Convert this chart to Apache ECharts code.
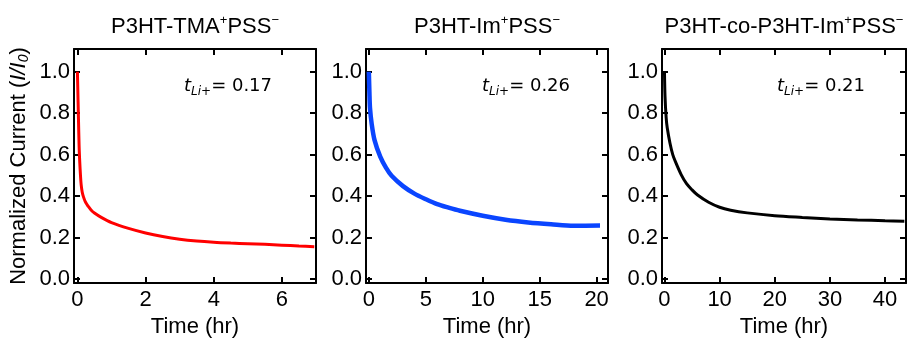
<!DOCTYPE html>
<html>
<head>
<meta charset="utf-8">
<title>Chronoamperometry – normalized current decay</title>
<script src="https://cdn.jsdelivr.net/npm/echarts@6/dist/echarts.min.js"></script>
<style>
  html, body { margin: 0; padding: 0; background: #fff; }
  #chart { width: 907px; height: 343px; }
</style>
</head>
<body>
<div id="chart"></div>
<script>
// Normalized current I/I0 versus time (hr) for three polymer electrolytes
const tmaSeries = [
  [0, 1.0], [0.01, 0.93], [0.03, 0.78], [0.05, 0.64], [0.07, 0.56], [0.09, 0.50],
  [0.11, 0.455], [0.14, 0.42], [0.18, 0.395], [0.24, 0.37], [0.32, 0.35], [0.4, 0.333],
  [0.5, 0.318], [0.7, 0.297], [1.0, 0.272], [1.5, 0.244], [2.0, 0.222],
  [2.5, 0.205], [3.0, 0.192], [3.5, 0.183], [4.0, 0.177], [4.5, 0.173],
  [5.0, 0.17], [5.5, 0.167], [6.0, 0.163], [6.5, 0.159], [6.95, 0.156]
];
const imSeries = [
  [0, 1.0], [0.05, 0.9], [0.1, 0.826], [0.25, 0.748], [0.5, 0.67], [1.0, 0.59],
  [1.5, 0.537], [2.0, 0.498], [3.0, 0.448], [4.0, 0.412], [5.0, 0.385],
  [6.0, 0.361], [7.0, 0.344], [8.0, 0.329], [10.0, 0.305], [12.0, 0.286],
  [14.0, 0.273], [16.0, 0.264], [18.0, 0.257], [20.3, 0.258]
];
const coSeries = [
  [0, 1.0], [0.1, 0.88], [0.3, 0.78], [0.5, 0.73], [1.0, 0.655], [1.5, 0.6],
  [2.0, 0.565], [3.0, 0.505], [4.0, 0.46], [5.0, 0.43], [6.0, 0.405],
  [8.0, 0.37], [10.0, 0.346], [12.0, 0.332], [15.0, 0.319], [20.0, 0.305],
  [25.0, 0.297], [30.0, 0.29], [35.0, 0.285], [40.0, 0.281], [43.5, 0.279]
];

const panelTitles = [
  '{m|P3HT-TMA}{s|+}{m|PSS}{s|\u2212}',
  '{m|P3HT-Im}{s|+}{m|PSS}{s|\u2212}',
  '{m|P3HT-co-P3HT-Im}{s|+}{m|PSS}{s|\u2212}'
];
const transferenceNumbers = ['0.17', '0.26', '0.21'];

const yTicks = [0, 0.2, 0.4, 0.6, 0.8, 1.0];
const xTicks = [[0, 2, 4, 6], [0, 5, 10, 15, 20], [0, 10, 20, 30, 40]];
const xRanges = [[-0.1, 7.0], [-0.25, 21.0], [-0.45, 43.8]];
const yRange = [-0.02, 1.11];

const lineColors = ['#ff0000', '#0a45ff', '#000000'];
const lineWidths = [3, 4.5, 3];
const seriesData = [tmaSeries, imSeries, coSeries];

const gridLefts = [74, 366, 662];
const gridWidths = [242, 242, 244];
const FONT = 'Liberation Sans, Arial, Helvetica, sans-serif';

const grids = [], xAxes = [], yAxes = [], series = [], graphics = [];

for (let i = 0; i < 3; i++) {
  grids.push({ left: gridLefts[i], top: 49, width: gridWidths[i], height: 241 });

  const lineStyle = { color: '#000', width: 2 };
  const tickBase = { show: true, inside: true, length: 6, lineStyle: { color: '#000', width: 2 } };

  // bottom axis with labels
  xAxes.push({
    type: 'value', gridIndex: i, position: 'bottom',
    min: xRanges[i][0], max: xRanges[i][1],
    axisLine: { show: true, onZero: false, lineStyle },
    axisTick: Object.assign({ customValues: xTicks[i] }, tickBase),
    axisLabel: { show: true, customValues: xTicks[i], margin: 6, color: '#000',
                 fontFamily: FONT, fontSize: 22, formatter: v => String(Math.round(v)) },
    splitLine: { show: false },
    name: 'Time (hr)', nameLocation: 'middle', nameGap: 32,
    nameTextStyle: { color: '#000', fontFamily: FONT, fontSize: 22 }
  });
  // mirrored top axis
  xAxes.push({
    type: 'value', gridIndex: i, position: 'top',
    min: xRanges[i][0], max: xRanges[i][1],
    axisLine: { show: true, onZero: false, lineStyle },
    axisTick: Object.assign({ customValues: xTicks[i] }, tickBase),
    axisLabel: { show: false }, splitLine: { show: false }
  });

  const yLeft = {
    type: 'value', gridIndex: i, position: 'left',
    min: yRange[0], max: yRange[1],
    axisLine: { show: true, onZero: false, lineStyle },
    axisTick: Object.assign({ customValues: yTicks }, tickBase),
    axisLabel: { show: true, customValues: yTicks, margin: 4, color: '#000',
                 fontFamily: FONT, fontSize: 22, formatter: v => v.toFixed(1) },
    splitLine: { show: false }
  };
  if (i === 0) {
    Object.assign(yLeft, {
      name: '{r|Normalized Current (}{i|I/I}{sub|0}{r|)}',
      nameLocation: 'middle', nameRotate: 90, nameGap: 43,
      nameTextStyle: {
        color: '#000', fontFamily: FONT, fontSize: 22,
        rich: {
          r: { fontFamily: FONT, fontSize: 22, color: '#000' },
          i: { fontFamily: FONT, fontSize: 22, fontStyle: 'italic', color: '#000' },
          sub: { fontFamily: FONT, fontSize: 14, fontStyle: 'italic', color: '#000',
                 verticalAlign: 'bottom', lineHeight: 24 }
        }
      }
    });
  }
  yAxes.push(yLeft);
  // mirrored right axis
  yAxes.push({
    type: 'value', gridIndex: i, position: 'right',
    min: yRange[0], max: yRange[1],
    axisLine: { show: true, onZero: false, lineStyle },
    axisTick: Object.assign({ customValues: yTicks }, tickBase),
    axisLabel: { show: false }, splitLine: { show: false }
  });

  series.push({
    type: 'line', xAxisIndex: 2 * i, yAxisIndex: 2 * i,
    data: seriesData[i], showSymbol: false, smooth: 0.3,
    lineStyle: { color: lineColors[i], width: lineWidths[i] },
    silent: true, animation: false, clip: true
  });

  // panel heading
  graphics.push({
    type: 'text', x: gridLefts[i] + gridWidths[i] / 2, y: 27,
    style: {
      text: panelTitles[i], align: 'center', verticalAlign: 'middle',
      rich: {
        m: { fontFamily: FONT, fontSize: 22, color: '#000', lineHeight: 26 },
        s: { fontFamily: FONT, fontSize: 13, color: '#000', verticalAlign: 'top', lineHeight: 26 }
      }
    }
  });
  // transference number annotation
  graphics.push({
    type: 'text', x: gridLefts[i] + [110, 116, 115][i], y: 86,
    style: {
      text: '{t|t}{sub|Li+}{n|= ' + transferenceNumbers[i] + '}',
      align: 'left', verticalAlign: 'middle',
      rich: {
        t: { fontFamily: 'DejaVu Sans', fontSize: 18, fontStyle: 'italic', color: '#000', lineHeight: 24 },
        sub: { fontFamily: 'DejaVu Sans', fontSize: 12, fontStyle: 'italic', color: '#000',
               verticalAlign: 'bottom', lineHeight: 22 },
        n: { fontFamily: 'DejaVu Sans', fontSize: 18, color: '#000', lineHeight: 24 }
      }
    }
  });
}

const chart = echarts.init(document.getElementById('chart'), null, { renderer: 'canvas' });
chart.setOption({
  animation: false,
  backgroundColor: '#fff',
  grid: grids, xAxis: xAxes, yAxis: yAxes, series: series, graphic: graphics
});
</script>
</body>
</html>
